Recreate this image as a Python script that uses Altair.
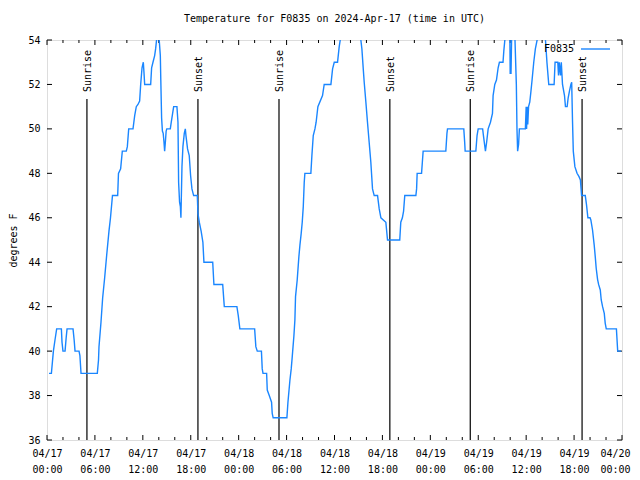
import altair as alt
import pandas as pd

SERIES = "F0835"
TITLE = "Temperature for F0835 on 2024-Apr-17 (time in UTC)"
Y_TITLE = "degrees F"
START = "2024-04-17T00:00:00"

# hours since 2024-04-17 00:00 UTC, temperature in degrees F
hours = [0.25, 0.55, 0.8, 1.0, 1.21, 1.8, 1.88, 2.0, 2.26, 2.4, 2.51, 3.26, 3.4, 3.51, 4.01, 4.12, 4.26, 6.3,
         6.45, 6.51, 6.76, 6.97, 7.22, 7.47, 7.76, 7.95, 8.2, 8.85, 8.95, 9.22, 9.43, 9.93, 10.06, 10.23, 10.77,
         10.98, 11.18, 11.39, 11.6, 11.73, 11.9, 12.06, 12.15, 12.23, 12.98, 13.1, 13.27, 13.48, 13.6, 13.72,
         13.85, 13.98, 14.05, 14.19, 14.25, 14.35, 14.45, 14.55, 14.65, 14.73, 14.82, 14.92, 15.0, 15.44, 15.56,
         15.73, 15.86, 16.27, 16.4, 16.48, 16.6, 16.7, 16.77, 16.9, 17.02, 17.19, 17.32, 17.4, 17.6, 17.81, 17.98,
         18.15, 18.36, 18.82, 18.9, 19.07, 19.3, 19.52, 19.65, 20.75, 20.9, 22.0, 22.2, 23.78, 23.95, 24.15, 26.0,
         26.15, 26.33, 26.85, 26.95, 27.05, 27.5, 27.58, 27.83, 28.12, 28.2, 28.32, 30.04,
         30.17, 30.42, 30.58, 30.71, 30.92, 31.04, 31.12, 31.33, 31.54, 31.67, 31.83, 31.96, 32.09, 32.21, 32.29,
         33.04, 33.17, 33.34, 33.55, 33.7, 33.92, 34.5, 34.71, 35.55, 35.76, 35.97, 36.38, 36.59, 36.72, 37.2,
         37.9, 38.7, 39.3, 39.43, 39.6, 39.72, 39.93, 40.13, 40.34, 40.55, 40.76, 40.97, 41.39, 41.6, 41.81,
         42.43, 42.64, 44.17, 44.3, 44.5, 44.65, 44.8, 46.19, 46.28, 46.35, 46.9, 47.0, 47.1, 49.94, 50.08,
         50.15, 52.19, 52.3, 52.36, 53.7, 53.85, 53.99, 54.55, 54.65, 54.9, 55.05, 55.24, 55.53, 55.78, 55.86,
         56.07, 56.28, 56.49, 56.65, 57.1, 57.2, 57.33, 57.6, 57.95, 58.0, 58.1, 58.2, 58.45, 58.6, 58.77, 58.85,
         58.93, 59.05, 59.15, 59.9, 60.0, 60.05, 60.15, 60.2, 60.3, 60.45, 60.6, 60.74, 60.95, 61.15, 61.37,
         61.9, 62.42, 62.6, 62.83, 63.5, 63.62, 63.96, 64.05, 64.15, 64.3, 64.4, 64.55, 64.8, 64.92, 65.13,
         65.26, 65.42, 65.6, 65.7, 65.8, 65.9, 66.1, 66.37, 66.62, 66.79, 66.94, 67.4, 67.55, 67.73, 68.0, 68.1,
         68.31, 68.52, 68.65, 68.77, 68.94, 69.07, 69.28, 69.4, 69.57, 69.78, 69.9, 70.03, 71.3, 71.46, 71.9]
temps = [39, 39, 40, 40.5, 41, 41, 40.4, 40, 40, 40.6, 41, 41, 40.5, 40, 40, 39.8, 39, 39,
         39.6, 40.2, 41.3, 42.4, 43.3, 44.3, 45.4, 46, 47, 47, 48, 48.2, 49, 49, 49.2, 50, 50,
         50.6, 51, 51.1, 51.25, 52, 52.75, 53, 52.5, 52, 52, 52.75, 53, 53.3, 53.6, 54,
         55, 55, 54, 53.3, 52.2, 50.5, 49.9, 49.8, 49.4, 49, 49.4, 49.9, 50, 50, 50.3,
         50.7, 51, 51, 50.3, 47.6, 46.7, 46.5, 46, 48.3, 49.2, 49.8, 50, 49.7, 49.1, 48.8, 47.9,
         47.3, 47, 47, 46.2, 45.8, 45.4, 44.9, 44, 44, 43, 43, 42, 42, 41.6, 41, 41,
         40.2, 40, 40, 39.2, 39, 39, 38.25, 38, 37.7, 37.2, 37, 37,
         37.7, 38.7, 39.2, 39.75, 40.7, 41.4, 42.45, 43.2, 44.25, 44.77, 45.3, 45.8, 46.5, 47.6, 48,
         48, 48.8, 49.7, 50, 50.3, 51, 51.5, 52, 52, 52.7, 53, 53, 53.7, 54, 55,
         56, 55.5, 54, 53.6, 52.7, 52.1, 51.2, 50.3, 49.4, 48.5, 47.3, 47, 47, 46.4, 46,
         45.8, 45, 45, 45.8, 46, 46.3, 47, 47, 47.3, 48, 48, 48.5, 49, 49, 49.8,
         50, 50, 49.4, 49, 49, 49.7, 50, 50, 49.7, 49, 49.4, 50, 50.3, 50.7, 51.5,
         52, 52.2, 52.75, 53, 53, 53.5, 54, 55, 54.5, 52.5, 52.5, 54.5, 55, 54, 52, 50,
         49, 49.3, 50, 50, 51, 50, 51, 50.2, 51, 51.2, 51.7, 52.2, 53, 53.6, 54,
         55, 54, 53, 52, 52, 53, 53, 52.4, 53, 52.4, 53, 52, 51.5, 51, 51,
         51.4, 51.7, 52, 52.1, 50.4, 49, 48.3, 48, 47.85, 47.7, 47, 47, 46.6, 46, 46, 45.9,
         45.45, 44.77, 44.25, 43.73, 43.23, 43, 42.75, 42.3, 42, 41.7, 41.25, 41, 41, 40, 40]

sun_hours = [5.0, 18.9, 29.05, 42.93, 53.0, 67.0]
sun_labels = ["Sunrise", "Sunset", "Sunrise", "Sunset", "Sunrise", "Sunset"]

major_tick_hours = [0, 6, 12, 18, 24, 30, 36, 42, 48, 54, 60, 66, 72]
minor_tick_hours = [2, 4, 8, 10, 14, 16, 20, 22, 26, 28, 32, 34, 38, 40, 44, 46, 50, 52, 56, 58, 62, 64, 68, 70]
y_ticks = [36, 38, 40, 42, 44, 46, 48, 50, 52, 54]

FONT = "DejaVu Sans Mono"
LINE_COLOR = "#1a86ff"
W, H = 575, 400

base = pd.Timestamp(START)


def iso(h):
    return (base + pd.Timedelta(hours=h)).strftime("%Y-%m-%dT%H:%M:%S.%fZ")


def ms(h):
    return int((base + pd.Timedelta(hours=h)).timestamp() * 1000)


df = pd.DataFrame({"time": [iso(h) for h in hours], "temp": temps})
sun_df = pd.DataFrame({"time": [iso(h) for h in sun_hours], "label": sun_labels})
major_df = pd.DataFrame({"time": [iso(h) for h in major_tick_hours]})
minor_df = pd.DataFrame({"time": [iso(h) for h in minor_tick_hours]})
ytick_df = pd.DataFrame({"temp": y_ticks})
legend_df = pd.DataFrame({"name": [SERIES]})

x_scale = alt.Scale(type="utc", domain=[ms(0), ms(72)], nice=False)
y_scale = alt.Scale(domain=[36, 54], nice=False, zero=False)

last_tick = ms(major_tick_hours[-1])
x_axis = alt.Axis(
    values=[ms(h) for h in major_tick_hours],
    labelExpr="[utcFormat(datum.value, '%m/%d'), utcFormat(datum.value, '%H:%M')]",
    ticks=False, domain=False, grid=False, title=None,
    labelFont=FONT, labelFontSize=10, labelColor="black",
    labelPadding=8, labelLineHeight=16, labelBaseline="top",
    labelOverlap=False, labelFlush=False, labelAlign="center",
    labelOffset={"condition": {"test": f"datum.value >= {last_tick - 1}", "value": -7}, "value": 0},
)
y_axis = alt.Axis(
    values=y_ticks, ticks=False, domain=False, grid=False,
    labelFont=FONT, labelFontSize=10, labelColor="black", labelPadding=7,
    title=Y_TITLE, titleFont=FONT, titleFontSize=10, titleFontWeight="normal",
    titleColor="black", titleAngle=270, titleX=-34, titleY=200,
    titleAlign="center", titleBaseline="middle",
)

line = alt.Chart(df).mark_line(clip=True, color=LINE_COLOR, strokeWidth=1.4).encode(
    x=alt.X("time:T", scale=x_scale, axis=x_axis),
    y=alt.Y("temp:Q", scale=y_scale, axis=y_axis),
)

sun_rules = alt.Chart(sun_df).mark_rule(color="black", strokeWidth=1.2).encode(
    x=alt.X("time:T", scale=x_scale), y=alt.value(59), y2=alt.value(H)
)
sun_text = alt.Chart(sun_df).mark_text(
    angle=270, align="left", baseline="middle", font=FONT, fontSize=10, color="black", dy=1
).encode(x=alt.X("time:T", scale=x_scale), y=alt.value(52), text="label:N")

major_bottom = alt.Chart(major_df).mark_rule(color="black", strokeWidth=1).encode(
    x=alt.X("time:T", scale=x_scale), y=alt.value(H), y2=alt.value(H - 5))
major_top = alt.Chart(major_df).mark_rule(color="black", strokeWidth=1).encode(
    x=alt.X("time:T", scale=x_scale), y=alt.value(0), y2=alt.value(5))
minor_bottom = alt.Chart(minor_df).mark_rule(color="black", strokeWidth=1).encode(
    x=alt.X("time:T", scale=x_scale), y=alt.value(H), y2=alt.value(H - 3))
minor_top = alt.Chart(minor_df).mark_rule(color="black", strokeWidth=1).encode(
    x=alt.X("time:T", scale=x_scale), y=alt.value(0), y2=alt.value(3))
ytick_left = alt.Chart(ytick_df).mark_rule(color="black", strokeWidth=1).encode(
    y=alt.Y("temp:Q", scale=y_scale), x=alt.value(0), x2=alt.value(5))
ytick_right = alt.Chart(ytick_df).mark_rule(color="black", strokeWidth=1).encode(
    y=alt.Y("temp:Q", scale=y_scale), x=alt.value(W - 5), x2=alt.value(W))

legend_text = alt.Chart(legend_df).mark_text(
    align="right", baseline="middle", font=FONT, fontSize=10, color="black"
).encode(x=alt.value(527), y=alt.value(9), text="name:N")
legend_line = alt.Chart(legend_df).mark_rule(color=LINE_COLOR, strokeWidth=1.4).encode(
    x=alt.value(534), x2=alt.value(563), y=alt.value(9))

chart = alt.layer(
    sun_rules, sun_text, major_bottom, major_top, minor_bottom, minor_top,
    ytick_left, ytick_right, line, legend_text, legend_line,
).properties(
    width=W, height=H,
    title=alt.Title(TITLE, font=FONT, fontSize=10, fontWeight="normal", color="black",
                    anchor="middle", offset=11),
    autosize=alt.AutoSizeParams(type="none"),
    padding={"left": 39, "top": 32, "right": 10, "bottom": 40},
).configure_view(stroke="black", strokeWidth=1).configure(background="white")

chart.save("out.html", embed_options={"renderer": "svg", "actions": False})
